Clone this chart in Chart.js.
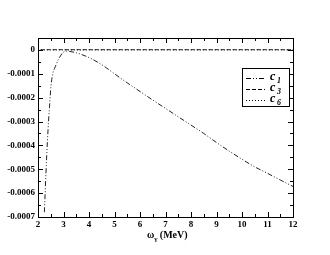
<!DOCTYPE html>
<html>
<head>
<meta charset="utf-8">
<script src="https://cdn.jsdelivr.net/npm/chart.js@4"></script>
<style>
  html, body { margin: 0; padding: 0; background: #fff; }
  #wrap { width: 330px; height: 255px; }
</style>
</head>
<body>
<div id="wrap"><canvas id="chart" width="330" height="255"></canvas></div>
<script>
// values
const xC1 = [2.25, 2.28, 2.31, 2.37, 2.45, 2.51, 2.58, 2.68, 2.8, 2.9, 3.0, 3.1, 3.5, 4.0, 4.5, 5.0, 5.5, 6.0, 6.5, 7.0, 7.5, 8.0, 8.5, 9.0, 9.5, 10.0, 10.5, 11.0, 11.5, 12.0];
const c1 = [-0.00068, -0.0006, -0.00052, -0.00038, -0.00024, -0.00015, -0.0001, -0.00007, -0.00004, -0.000022, -0.000009, -0.000005, -0.000012, -0.000032, -0.000062, -0.0001, -0.000138, -0.000174, -0.00021, -0.000245, -0.00028, -0.000315, -0.00035, -0.000388, -0.000424, -0.000458, -0.00049, -0.000517, -0.000545, -0.000572];
const xC3 = [2.1, 2.5, 3, 4, 6, 8, 10, 12];
const c3 = [0.000001, 0.000001, 0.000001, 0.000001, 0.000001, 0.000001, 0.000001, 0.000001];
const xC6 = [2.0, 3, 4, 6, 8, 10, 12];
const c6 = [0, 0, 0, 0, 0, 0, 0];
const xTicks = [2, 3, 4, 5, 6, 7, 8, 9, 10, 11, 12];
const yTicks = [0, -0.0001, -0.0002, -0.0003, -0.0004, -0.0005, -0.0006, -0.0007];
const yLabels = ['0', '-0.0001', '-0.0002', '-0.0003', '-0.0004', '-0.0005', '-0.0006', '-0.0007'];
const seriesNames = ['1', '3', '6'];

const pts = (xs, ys) => xs.map((x, i) => ({x: x, y: ys[i]}));
const dashes = [[5, 2, 1, 2, 1, 2], [4, 2], [1, 2]];

// frame, inward ticks and legend box
const framePlugin = {
  id: 'frame',
  afterDraw(chart) {
    const ctx = chart.ctx, a = chart.chartArea;
    const xs = chart.scales.x, ys = chart.scales.y;
    ctx.save();
    ctx.strokeStyle = '#000';
    ctx.lineWidth = 1;
    ctx.strokeRect(a.left + 0.5, a.top + 0.5, a.right - a.left, a.bottom - a.top);
    ctx.beginPath();
    for (let v = 2; v <= 12.001; v += 0.5) {
      const px = Math.round(xs.getPixelForValue(v)) + 0.5;
      const len = Math.abs(v - Math.round(v)) < 0.01 ? 5 : 3;
      ctx.moveTo(px, a.bottom); ctx.lineTo(px, a.bottom - len);
      ctx.moveTo(px, a.top); ctx.lineTo(px, a.top + len);
    }
    for (let k = 0; k <= 15; k++) {
      const v = 0.00005 - k * 0.00005;
      const py = Math.round(ys.getPixelForValue(v)) + 0.5;
      const len = k % 2 === 1 ? 5 : 3;
      ctx.moveTo(a.left, py); ctx.lineTo(a.left + len, py);
      ctx.moveTo(a.right, py); ctx.lineTo(a.right - len, py);
    }
    ctx.stroke();

    // legend
    const lx = 242, ly = 68, lw = 47, lh = 38;
    ctx.fillStyle = '#fff';
    ctx.fillRect(lx, ly, lw, lh);
    ctx.strokeRect(lx + 0.5, ly + 0.5, lw, lh);
    seriesNames.forEach((n, i) => {
      const yy = ly + 10 + i * 11;
      ctx.setLineDash(dashes[i]);
      ctx.beginPath();
      ctx.moveTo(lx + 4, yy + 0.5); ctx.lineTo(lx + 23, yy + 0.5);
      ctx.stroke();
      ctx.setLineDash([]);
      ctx.fillStyle = '#000';
      ctx.font = 'italic bold 12px "Liberation Serif"';
      ctx.textBaseline = 'alphabetic';
      ctx.fillText('c', lx + 28, yy + 2);
      ctx.font = 'italic bold 8px "Liberation Serif"';
      ctx.fillText(n, lx + 35, yy + 5);
    });

    // x axis title with subscript
    ctx.fillStyle = '#000';
    ctx.font = 'bold 10px "Liberation Serif"';
    const tx = 147, ty = 238;
    ctx.fillText('ω', tx, ty);
    const w1 = ctx.measureText('ω').width;
    ctx.font = 'bold 7px "Liberation Serif"';
    ctx.fillText('γ', tx + w1, ty + 3);
    ctx.font = 'bold 10px "Liberation Serif"';
    ctx.fillText(' (MeV)', tx + w1 + 3, ty);
    ctx.restore();
  }
};

document.addEventListener('DOMContentLoaded', function () {
  const ctx = document.getElementById('chart').getContext('2d');
  const common = {borderColor: '#222', borderWidth: 1, pointRadius: 0, fill: false, cubicInterpolationMode: 'monotone'};
  new Chart(ctx, {
    type: 'line',
    data: {
      datasets: [
        Object.assign({label: 'c1', data: pts(xC1, c1), borderDash: dashes[0]}, common),
        Object.assign({label: 'c3', data: pts(xC3, c3), borderDash: dashes[1]}, common),
        Object.assign({label: 'c6', data: pts(xC6, c6), borderDash: dashes[2]}, common)
      ]
    },
    options: {
      responsive: false,
      animation: false,
      layout: {padding: {top: 38, right: 37, left: 0, bottom: 0}},
      plugins: {legend: {display: false}, tooltip: {enabled: false}},
      scales: {
        x: {
          type: 'linear', min: 2, max: 12,
          afterFit(s) { s.height = 38; },
          afterBuildTicks(s) { s.ticks = xTicks.map(v => ({value: v})); },
          grid: {display: false, drawTicks: false},
          border: {display: false},
          ticks: {color: '#000', padding: 2, maxRotation: 0, font: {family: 'Liberation Serif', weight: 'bold', size: 9}}
        },
        y: {
          type: 'linear', min: -0.0007, max: 0.00005,
          afterFit(s) { s.width = 38; },
          afterBuildTicks(s) { s.ticks = yTicks.map(v => ({value: v})); },
          grid: {display: false, drawTicks: false},
          border: {display: false},
          ticks: {
            color: '#000', padding: 3,
            font: {family: 'Liberation Serif', weight: 'bold', size: 9},
            callback: (v) => yLabels[yTicks.findIndex(t => Math.abs(t - v) < 1e-9)]
          }
        }
      }
    },
    plugins: [framePlugin]
  });
});
</script>
</body>
</html>
